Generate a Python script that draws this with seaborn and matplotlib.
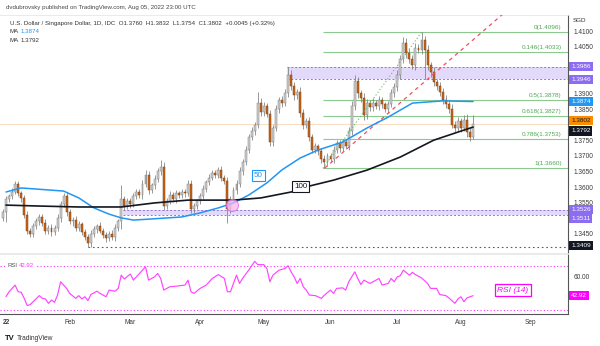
import numpy as np
import pandas as pd
import matplotlib
matplotlib.use("Agg")
import matplotlib.pyplot as plt
import seaborn as sns

# ---------------- data ----------------
# daily closes, index -1 (2021-12-31) .. 154 (2022-08-05); index 0 = 2022-01-03
closes = [
    1.3520, 1.3560, 1.3570, 1.3585, 1.3610, 1.3580, 1.3565, 1.3510, 1.3460, 1.3450,
    1.3475, 1.3490, 1.3505, 1.3485, 1.3460, 1.3470, 1.3455, 1.3470, 1.3500, 1.3545,
    1.3570, 1.3520, 1.3490, 1.3495, 1.3470, 1.3480, 1.3455, 1.3440, 1.3420, 1.3450,
    1.3465, 1.3475, 1.3460, 1.3445, 1.3435, 1.3450, 1.3440, 1.3470, 1.3490, 1.3560,
    1.3540, 1.3555, 1.3545, 1.3570, 1.3585, 1.3575, 1.3610, 1.3640, 1.3590, 1.3605,
    1.3625, 1.3650, 1.3665, 1.3540, 1.3555, 1.3575, 1.3560, 1.3580, 1.3575, 1.3585,
    1.3580, 1.3610, 1.3530, 1.3540, 1.3555, 1.3570, 1.3595, 1.3615, 1.3630, 1.3645,
    1.3640, 1.3655, 1.3630, 1.3620, 1.3530, 1.3560, 1.3590, 1.3610, 1.3650, 1.3680,
    1.3720, 1.3760, 1.3780, 1.3800, 1.3870, 1.3840, 1.3860, 1.3835, 1.3745, 1.3790,
    1.3850, 1.3880, 1.3870, 1.3900, 1.3960, 1.3925, 1.3895, 1.3905, 1.3837, 1.3800,
    1.3810, 1.3760, 1.3720, 1.3730, 1.3715, 1.3690, 1.3680, 1.3700, 1.3690, 1.3720,
    1.3740, 1.3725, 1.3745, 1.3730, 1.3780, 1.3860, 1.3940, 1.3900, 1.3885, 1.3831,
    1.3870, 1.3855, 1.3870, 1.3860, 1.3880, 1.3865, 1.3850, 1.3865, 1.3900, 1.3920,
    1.3960, 1.4010, 1.4060, 1.4030, 1.4010, 1.3990, 1.4045, 1.4040, 1.4070, 1.4040,
    1.3990, 1.3970, 1.3935, 1.3925, 1.3905, 1.3880, 1.3865, 1.3850, 1.3800, 1.3790,
    1.3810, 1.3790, 1.3815, 1.3775, 1.3760, 1.3802,
]
first_open = 1.3500
up_wick_pips = [
    8, 10, 9, 12, 8, 10, 8, 10, 12, 9,
    10, 12, 8, 10, 12, 9, 10, 8, 12, 10,
    11, 14, 10, 9, 12, 10, 8, 10, 9, 12,
    10, 8, 12, 9, 10, 8, 12, 10, 9, 45,
    12, 10, 9, 12, 10, 8, 12, 15, 10, 9,
    12, 10, 23, 14, 10, 12, 9, 10, 8, 10,
    9, 12, 14, 10, 8, 12, 10, 9, 12, 10,
    9, 10, 12, 10, 12, 10, 9, 12, 14, 10,
    12, 10, 12, 9, 35, 14, 12, 10, 12, 10,
    12, 10, 12, 14, 26, 15, 12, 10, 14, 12,
    10, 14, 10, 12, 9, 10, 12, 10, 9, 12,
    10, 12, 9, 10, 12, 15, 20, 14, 12, 16,
    12, 10, 14, 10, 12, 10, 9, 12, 14, 12,
    15, 12, 20, 18, 14, 12, 16, 12, 26, 15,
    14, 12, 16, 12, 10, 12, 14, 12, 15, 12,
    14, 12, 16, 18, 14, 30,
]
dn_wick_pips = [
    10, 32, 8, 10, 9, 10, 12, 10, 12, 10,
    10, 9, 12, 10, 12, 10, 12, 9, 10, 12,
    10, 12, 10, 14, 10, 12, 10, 9, 11, 12,
    10, 12, 9, 10, 12, 9, 10, 12, 10, 25,
    14, 10, 12, 10, 9, 10, 12, 10, 12, 10,
    10, 9, 12, 14, 12, 10, 9, 12, 10, 10,
    12, 10, 14, 12, 10, 9, 10, 12, 10, 9,
    10, 12, 10, 9, 45, 12, 10, 12, 10, 12,
    10, 12, 10, 12, 10, 14, 12, 10, 14, 12,
    10, 12, 14, 10, 12, 14, 16, 12, 12, 14,
    12, 14, 12, 10, 12, 14, 20, 12, 10, 12,
    10, 12, 10, 9, 10, 14, 12, 14, 12, 16,
    12, 10, 12, 10, 14, 12, 10, 12, 10, 12,
    12, 14, 12, 16, 14, 12, 14, 12, 14, 95,
    14, 16, 12, 14, 12, 14, 12, 14, 12, 14,
    12, 14, 12, 14, 12, 6,
]

ma50_idx = [0, 5, 19, 24, 29, 34, 38, 42, 47, 58, 64, 70, 75, 80, 86, 91, 97, 103, 111, 119, 126, 134, 144, 154]
ma50_val = [1.3584, 1.3597, 1.3587, 1.3565, 1.3533, 1.3513, 1.3501, 1.3494, 1.3497, 1.3504, 1.3517, 1.3533,
            1.3549, 1.3574, 1.3613, 1.3655, 1.3693, 1.3719, 1.3744, 1.3789, 1.3824, 1.3869, 1.3876, 1.3874]
ma100_idx = [0, 11, 24, 38, 49, 60, 75, 84, 94, 100, 108, 119, 130, 141, 149, 154]
ma100_val = [1.3542, 1.3539, 1.3536, 1.3536, 1.3549, 1.3558, 1.3558, 1.3565, 1.3584, 1.3603, 1.3622, 1.3654,
             1.3696, 1.3750, 1.3776, 1.3792]

rsi_idx = [0, 1, 3, 4, 5, 6, 7, 8, 11, 12, 13, 14, 15, 16, 17, 18, 20, 21, 23, 24, 25, 26, 27, 28, 30, 31, 33,
           34, 36, 37, 38, 39, 41, 42, 44, 46, 47, 49, 50, 51, 52, 54, 56, 59, 60, 61, 62, 64, 66, 68, 70, 72,
           73, 74, 76, 77, 78, 80, 82, 83, 85, 86, 87, 88, 90, 92, 93, 94, 95, 96, 97, 98, 99, 100, 102, 104,
           105, 107, 108, 109, 111, 112, 113, 115, 116, 117, 118, 120, 121, 123, 124, 126, 127, 128, 129, 130,
           131, 133, 134, 135, 137, 139, 140, 142, 143, 145, 146, 148, 149, 150, 151, 152, 154]
rsi_val = [42, 46.5, 52.5, 46.5, 46, 40.5, 34, 35, 43, 40.5, 40, 36, 39, 37, 43.5, 55.5, 49.5, 45, 40.5, 43, 40,
           42, 38.5, 44, 47, 45, 42, 48, 47, 49.5, 61.5, 58, 62.5, 57, 63, 69, 57, 60, 63, 58.5, 48, 51, 51.5,
           52.5, 57, 46.5, 45, 49.5, 52.5, 58.5, 62, 58.5, 46.5, 46.5, 61.5, 54, 58.5, 66, 74, 71, 71, 67.5,
           55.5, 61.5, 66, 67.5, 70, 64.5, 60, 54, 58.5, 51, 48, 43.5, 43, 40.5, 43.5, 48, 45, 49.5, 50, 48,
           55.5, 64.5, 58.5, 53, 57, 54, 55.5, 58.5, 52.5, 54, 58.5, 55.5, 60, 61, 66, 61.5, 64, 62, 59, 54,
           49.5, 49.5, 44, 43, 41, 36, 40, 42, 37.5, 41, 42.92]

fib_labels = ["0", "0.146", "0.5", "0.618", "0.786", "1"]
fib_prices = [1.4096, 1.4033, 1.3878, 1.3827, 1.3753, 1.3660]
fib_start_idx = 104.5
fib_end_idx = 137.0

zone_hi = (1.3946, 1.3986)
zone_hi_start = 92.6
zone_lo = (1.3511, 1.3526)
zone_lo_start = 38.5
low_line = 1.3409
low_line_start = 27
trend_pts_idx = [105, 172]
trend_pts_val = [1.3660, 1.4223]
cross_idx, cross_val = 74.5, 1.3542

last_close = 1.3802
ma50_last, ma100_last = 1.3874, 1.3792
rsi_last = 42.92

# price-axis labels left visible (the others sit under the price tags)
price_ticks = [1.3450, 1.3550, 1.3600, 1.3650, 1.3700, 1.3750,
               1.3850, 1.3900, 1.4050, 1.4100]
rsi_ticks = [60]
month_names = ["22", "Feb", "Mar", "Apr", "May", "Jun", "Jul", "Aug", "Sep"]

# ---------------- style ----------------
sns.set_theme(style="white")
plt.rcParams['font.family'] = ['Liberation Sans', 'DejaVu Sans']

W, H = 600, 346
fig = plt.figure(figsize=(W / 100, H / 100), dpi=100)
fig.patch.set_facecolor("white")
R = 568 / W
ax = fig.add_axes([0, (H - 253) / H, R, (253 - 15) / H])
axr = fig.add_axes([0, (H - 314) / H, R, (314 - 254) / H], sharex=ax)

idx = np.arange(-1, -1 + len(closes))
c = np.array(closes)
o = np.concatenate([[first_open], c[:-1]])
hi = np.maximum(o, c) + np.array(up_wick_pips) / 10000
lo = np.minimum(o, c) - np.array(dn_wick_pips) / 10000
up = c >= o

UP_F, UP_E, DN_F, DN_E, WICK = "#d0d0d0", "#7d7d7d", "#c9661c", "#7e4010", "#7d7d7d"

# zones / horizontal levels (behind candles)
xr = 186
for (a, b), s in [(zone_hi, zone_hi_start), (zone_lo, zone_lo_start)]:
    ax.fill_between([s, xr], a, b, color="#e3d9fb", lw=0, zorder=1)
    ax.hlines([a, b], s, xr, colors="#9575cd", linestyles=(0, (2, 2)), lw=0.7, zorder=1.5)
ax.hlines(low_line, low_line_start, xr, colors="#5d5d5d", linestyles=(0, (1.5, 2.5)), lw=0.8, zorder=1.5)
ax.axhline(last_close, color="#f8dcc2", lw=0.7, zorder=1.2)

for lab, p in zip(fib_labels, fib_prices):
    ax.hlines(p, fib_start_idx, xr, colors="#8cc98e", lw=0.8, zorder=1.6)
    ax.text(183.2, p + 0.0007, f"{lab}({p:.4f})", ha="right", va="bottom",
            fontsize=4.6, color="#4ea853", zorder=3)

# candles
ax.vlines(idx, lo, hi, colors=WICK, lw=0.55, zorder=2)
body_h = np.maximum(np.abs(c - o), 0.00012)
ax.bar(idx[up], body_h[up], bottom=np.minimum(o, c)[up], width=0.64,
       color=UP_F, edgecolor=UP_E, linewidth=0.35, zorder=2.2)
ax.bar(idx[~up], body_h[~up], bottom=np.minimum(o, c)[~up], width=0.64,
       color=DN_F, edgecolor=DN_E, linewidth=0.35, zorder=2.2)

# moving averages
sns.lineplot(x=ma50_idx, y=ma50_val, ax=ax, color="#2196f3", lw=1.1, zorder=4)
sns.lineplot(x=ma100_idx, y=ma100_val, ax=ax, color="#131722", lw=1.2, zorder=4)

# trend lines
ax.plot(trend_pts_idx, trend_pts_val, color="#f05060", lw=0.9, ls=(0, (3, 3)), zorder=3)
ax.plot([fib_start_idx, fib_end_idx], [fib_prices[-1], fib_prices[0]], color="#66bb6a",
        lw=0.8, ls=(0, (1, 2)), zorder=3)

# crossover circle
ax.scatter([cross_idx], [cross_val], s=75, color="#f6b6f0", alpha=0.75, edgecolor="#e35be0",
           linewidth=0.7, zorder=5)

# MA labels
ax.text(83.2, 1.3638, "50", fontsize=5.8, color="#2196f3", ha="center", va="center", zorder=6,
        bbox=dict(boxstyle="square,pad=0.25", fc="white", ec="#2196f3", lw=0.8))
ax.text(97.2, 1.3603, "100", fontsize=5.8, color="#131722", ha="center", va="center", zorder=6,
        bbox=dict(boxstyle="square,pad=0.25", fc="white", ec="#131722", lw=0.8))

ax.set_xlim(-1.98, 185.3)
ax.set_ylim(1.33885, 1.41513)
ax.yaxis.tick_right()
ax.set_yticks(price_ticks)
ax.set_yticklabels([f"{t:.4f}" for t in price_ticks])
ax.tick_params(axis="y", length=0, pad=4, labelsize=4.7, labelcolor="#3a3a3a")
ax.tick_params(axis="x", length=0, labelbottom=False)
ax.spines["left"].set_visible(False)
ax.spines["right"].set_color("#555555")
ax.spines["right"].set_linewidth(0.8)
ax.spines["top"].set_color("#e6e6e6")
ax.spines["top"].set_linewidth(0.6)
ax.spines["bottom"].set_color("#e6e6e6")
ax.spines["bottom"].set_linewidth(0.6)
ax.grid(False)
ax.set_facecolor("white")


def tag(axis, val, txt, fc, tc, dy=0):
    axis.annotate(txt, xy=(1.0, val), xycoords=("axes fraction", "data"),
                  xytext=(2.2, dy), textcoords="offset points", ha="left", va="center",
                  fontsize=4.6, color=tc, annotation_clip=False, zorder=20,
                  bbox=dict(boxstyle="square,pad=0.32", fc=fc, ec="none"))


tag(ax, zone_hi[1], "1.3986", "#8c6cf0", "white")
tag(ax, zone_hi[0], "1.3946", "#8c6cf0", "white")
tag(ax, ma50_last, "1.3874", "#2196f3", "white")
tag(ax, last_close, "1.3802", "#fb8c00", "#1a1a1a", dy=2.2)
tag(ax, ma100_last, "1.3792", "#131722", "white", dy=-2.8)
tag(ax, zone_lo[1], "1.3526", "#8c6cf0", "white", dy=0.6)
tag(ax, zone_lo[0], "1.3511", "#8c6cf0", "white", dy=-3.0)
tag(ax, low_line, "1.3409", "#131722", "white", dy=0.8)

# ---------------- RSI panel ----------------
sns.lineplot(x=rsi_idx, y=rsi_val, ax=axr, color="#ff45ff", lw=0.85, zorder=3)
for lvl in (70, 30):
    axr.axhline(lvl, color="#ff33ff", lw=0.8, ls=(0, (1, 2)), zorder=2)
axr.set_ylim(26.4, 80.6)
axr.yaxis.tick_right()
axr.set_yticks(rsi_ticks)
axr.set_yticklabels([f"{t:.2f}" for t in rsi_ticks])
axr.tick_params(axis="y", length=0, pad=4, labelsize=4.7, labelcolor="#3a3a3a")
axr.spines["left"].set_visible(False)
axr.spines["top"].set_color("#e6e6e6")
axr.spines["top"].set_linewidth(0.6)
axr.spines["right"].set_color("#555555")
axr.spines["right"].set_linewidth(0.8)
axr.spines["bottom"].set_color("#555555")
axr.spines["bottom"].set_linewidth(0.8)
axr.grid(False)
tag(axr, rsi_last, "42.92", "#ff00ff", "white")

# month ticks on the time axis
dates = pd.bdate_range("2022-01-03", "2022-09-30")
month_pos = [int(np.where(dates.month == m)[0][0]) for m in range(1, 10)]
axr.set_xticks(month_pos)
axr.set_xticklabels(month_names)
axr.tick_params(axis="x", length=0, pad=3.5, labelsize=4.7, labelcolor="#3a3a3a")
axr.get_xticklabels()[0].set_fontweight("bold")

axr.text(0.014, 70, "RSI", transform=axr.get_yaxis_transform(), fontsize=4.3, color="#555555",
         va="center", ha="left", zorder=6, bbox=dict(boxstyle="square,pad=0.1", fc="white", ec="none"))
axr.text(0.034, 70, "42.92", transform=axr.get_yaxis_transform(), fontsize=4.3, color="#ff33ff",
         va="center", ha="left", zorder=6, bbox=dict(boxstyle="square,pad=0.1", fc="white", ec="none"))

fig.text(513 / W, 1 - 290 / H, "RSI (14)", fontsize=6, color="#ff00ff", style="italic",
         ha="center", va="center",
         bbox=dict(boxstyle="square,pad=0.35", fc="white", ec="#ff00ff", lw=0.9))

# ---------------- header / footer text ----------------
fig.text(6 / W, 1 - 7 / H, "dvdubrovsky published on TradingView.com, Aug 05, 2022 23:00 UTC",
         fontsize=4.4, color="#444444", va="center", ha="left")
fig.text(10 / W, 1 - 23 / H,
         "U.S. Dollar / Singapore Dollar, 1D, IDC  O1.3760  H1.3832  L1.3754  C1.3802  +0.0045 (+0.32%)",
         fontsize=4.4, color="#333333", va="center", ha="left")
fig.text(10 / W, 1 - 31.5 / H, "MA", fontsize=4.4, color="#333333", va="center", ha="left")
fig.text(21 / W, 1 - 31.5 / H, "1.3874", fontsize=4.4, color="#2196f3", va="center", ha="left")
fig.text(10 / W, 1 - 40 / H, "MA", fontsize=4.4, color="#333333", va="center", ha="left")
fig.text(21 / W, 1 - 40 / H, "1.3792", fontsize=4.4, color="#333333", va="center", ha="left")
fig.text(573 / W, 1 - 21 / H, "SGD", fontsize=4.5, color="#333333", va="center", ha="left")
fig.text(5 / W, 1 - 338 / H, "TV", fontsize=5.5, fontweight="bold", color="#131722", va="center", ha="left")
fig.text(17 / W, 1 - 338 / H, "TradingView", fontsize=4.8, color="#333333", va="center", ha="left")

fig.savefig("out.png", dpi=100, facecolor="white")
